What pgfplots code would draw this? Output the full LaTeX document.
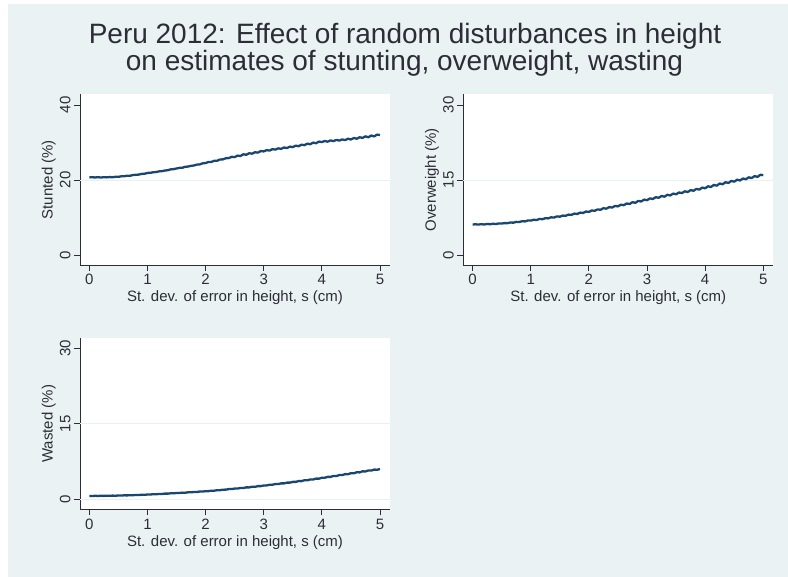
\documentclass[border=0pt]{standalone}
\usepackage{pgfplots}
\pgfplotsset{compat=1.18}
\usepackage{fontspec}
\setmainfont{Liberation Sans}
\definecolor{bg}{RGB}{234,242,243}
\definecolor{curve}{RGB}{26,71,111}
\definecolor{txt}{RGB}{45,45,55}
\definecolor{gridc}{RGB}{232,240,242}

\pgfplotstableread{
x y
0.00 20.70
0.05 20.72
0.10 20.68
0.15 20.74
0.20 20.66
0.25 20.75
0.30 20.70
0.35 20.78
0.40 20.74
0.45 20.86
0.50 20.84
0.55 20.98
0.60 21.00
0.65 21.14
0.70 21.12
0.75 21.32
0.80 21.38
0.85 21.44
0.90 21.62
0.95 21.66
1.00 21.88
1.05 21.92
1.10 22.06
1.15 22.12
1.20 22.30
1.25 22.36
1.30 22.52
1.35 22.60
1.40 22.84
1.45 22.90
1.50 23.06
1.55 23.24
1.60 23.26
1.65 23.52
1.70 23.58
1.75 23.78
1.80 23.86
1.85 24.10
1.90 24.16
1.95 24.44
2.00 24.52
2.05 24.80
2.10 24.82
2.15 25.12
2.20 25.14
2.25 25.48
2.30 25.50
2.35 25.82
2.40 25.84
2.45 26.18
2.50 26.10
2.55 26.50
2.60 26.40
2.65 26.86
2.70 26.72
2.75 27.14
2.80 27.02
2.85 27.40
2.90 27.30
2.95 27.72
3.00 27.62
3.05 27.96
3.10 27.84
3.15 28.22
3.20 28.10
3.25 28.44
3.30 28.30
3.35 28.68
3.40 28.52
3.45 28.90
3.50 28.76
3.55 29.16
3.60 29.00
3.65 29.42
3.70 29.28
3.75 29.70
3.80 29.52
3.85 29.98
3.90 29.80
3.95 30.24
4.00 30.10
4.05 30.40
4.10 30.22
4.15 30.56
4.20 30.36
4.25 30.70
4.30 30.50
4.35 30.82
4.40 30.64
4.45 31.00
4.50 30.80
4.55 31.20
4.60 31.00
4.65 31.40
4.70 31.22
4.75 31.64
4.80 31.40
4.85 31.86
4.90 31.62
4.95 32.10
5.00 32.00
}\stunted

\pgfplotstableread{
x y
0.00 6.10
0.05 6.14
0.10 6.08
0.15 6.16
0.20 6.10
0.25 6.20
0.30 6.16
0.35 6.24
0.40 6.20
0.45 6.30
0.50 6.28
0.55 6.38
0.60 6.36
0.65 6.50
0.70 6.46
0.75 6.62
0.80 6.60
0.85 6.74
0.90 6.72
0.95 6.90
1.00 6.88
1.05 7.04
1.10 7.00
1.15 7.20
1.20 7.16
1.25 7.36
1.30 7.32
1.35 7.54
1.40 7.48
1.45 7.72
1.50 7.66
1.55 7.88
1.60 7.84
1.65 8.08
1.70 8.02
1.75 8.28
1.80 8.20
1.85 8.48
1.90 8.40
1.95 8.70
2.00 8.62
2.05 8.90
2.10 8.84
2.15 9.12
2.20 9.04
2.25 9.36
2.30 9.26
2.35 9.58
2.40 9.48
2.45 9.82
2.50 9.72
2.55 10.06
2.60 9.96
2.65 10.30
2.70 10.20
2.75 10.56
2.80 10.44
2.85 10.82
2.90 10.70
2.95 11.08
3.00 10.96
3.05 11.32
3.10 11.20
3.15 11.56
3.20 11.44
3.25 11.80
3.30 11.66
3.35 12.04
3.40 11.90
3.45 12.28
3.50 12.14
3.55 12.50
3.60 12.38
3.65 12.74
3.70 12.60
3.75 12.98
3.80 12.84
3.85 13.22
3.90 13.08
3.95 13.48
4.00 13.34
4.05 13.74
4.10 13.60
4.15 14.02
4.20 13.86
4.25 14.30
4.30 14.14
4.35 14.56
4.40 14.40
4.45 14.82
4.50 14.66
4.55 15.06
4.60 14.90
4.65 15.30
4.70 15.14
4.75 15.54
4.80 15.38
4.85 15.78
4.90 15.62
4.95 16.04
5.00 15.96
}\overweight

\pgfplotstableread{
x y
0.00 0.66
0.05 0.64
0.10 0.68
0.15 0.65
0.20 0.69
0.25 0.66
0.30 0.70
0.35 0.68
0.40 0.72
0.45 0.70
0.50 0.74
0.55 0.73
0.60 0.78
0.65 0.76
0.70 0.81
0.75 0.80
0.80 0.85
0.85 0.84
0.90 0.89
0.95 0.88
1.00 0.94
1.05 0.94
1.10 1.00
1.15 0.99
1.20 1.06
1.25 1.05
1.30 1.12
1.35 1.11
1.40 1.18
1.45 1.17
1.50 1.24
1.55 1.24
1.60 1.31
1.65 1.30
1.70 1.38
1.75 1.37
1.80 1.45
1.85 1.44
1.90 1.53
1.95 1.52
2.00 1.60
2.05 1.61
2.10 1.70
2.15 1.70
2.20 1.80
2.25 1.80
2.30 1.90
2.35 1.91
2.40 2.02
2.45 2.02
2.50 2.12
2.55 2.12
2.60 2.24
2.65 2.23
2.70 2.36
2.75 2.35
2.80 2.48
2.85 2.47
2.90 2.61
2.95 2.60
3.00 2.74
3.05 2.74
3.10 2.88
3.15 2.88
3.20 3.02
3.25 3.01
3.30 3.16
3.35 3.15
3.40 3.30
3.45 3.30
3.50 3.45
3.55 3.45
3.60 3.61
3.65 3.60
3.70 3.77
3.75 3.76
3.80 3.93
3.85 3.92
3.90 4.10
3.95 4.09
4.00 4.27
4.05 4.27
4.10 4.45
4.15 4.44
4.20 4.63
4.25 4.62
4.30 4.81
4.35 4.80
4.40 4.99
4.45 4.98
4.50 5.17
4.55 5.16
4.60 5.36
4.65 5.34
4.70 5.55
4.75 5.52
4.80 5.73
4.85 5.70
4.90 5.90
4.95 5.86
5.00 6.00
}\wasted

\pgfplotsset{
  panel/.style={
    scale only axis,
    width=310pt,
    anchor=south west,
    axis background/.style={fill=white},
    axis x line*=bottom,
    axis y line*=left,
    axis line style={draw=txt, line width=0.9pt, -},
    tick align=outside,
    major tick length=6pt,
    tick style={draw=txt, line width=0.9pt},
    xmin=-0.16, xmax=5.172,
    xtick={0,1,2,3,4,5},
    /pgf/number format/assume math mode=true,
    ticklabel style={font=\fontsize{15}{18}\selectfont, text=txt},
    yticklabel style={rotate=90, anchor=south},
    label style={font=\fontsize{15}{18}\selectfont, text=txt},
    xlabel={St. dev. of error in height, s (cm)},
    xlabel style={at={(axis description cs:0.5,-0.217)}, anchor=base},
    ylabel style={at={(axis description cs:-0.0887,0.5)}, anchor=base},
    extra y tick labels={},
    extra y tick style={ymajorgrids=true, major tick length=0pt, grid style={draw=gridc, line width=0.8pt}},
    clip=true,
  },
  curve/.style={draw=curve, line width=2.3pt, line join=round, no marks},
}

\begin{document}
\begin{tikzpicture}[x=1pt, y=1pt]
\fill[white] (0,0) rectangle (788,577);
\fill[bg] (8,0) rectangle (788,573);

\node[anchor=base, font=\fontsize{28}{32}\selectfont, text=txt] at (405,533.7) {Peru 2012: Effect of random disturbances in height};
\node[anchor=base, font=\fontsize{28}{32}\selectfont, text=txt] at (404.5,506.3) {on estimates of stunting, overweight, wasting};

\begin{axis}[panel, at={(80pt,312pt)}, height=170.5pt,
  ymin=-2.667, ymax=42.8, ytick={0,20,40},
  extra y ticks={20},
  ylabel={Stunted (\%)}]
\addplot[curve] table[x=x, y=y] {\stunted};
\end{axis}

\begin{axis}[panel, at={(463.3pt,312pt)}, height=170.5pt,
  ymin=-2, ymax=32.1, ytick={0,15,30},
  extra y ticks={15},
  ylabel={Overweight (\%)}]
\addplot[curve] table[x=x, y=y] {\overweight};
\end{axis}

\begin{axis}[panel, at={(80pt,67.7pt)}, height=171pt,
  ymin=-2, ymax=32, ytick={0,15,30},
  extra y ticks={0,15},
  ylabel={Wasted (\%)}]
\addplot[curve] table[x=x, y=y] {\wasted};
\end{axis}
\end{tikzpicture}
\end{document}
